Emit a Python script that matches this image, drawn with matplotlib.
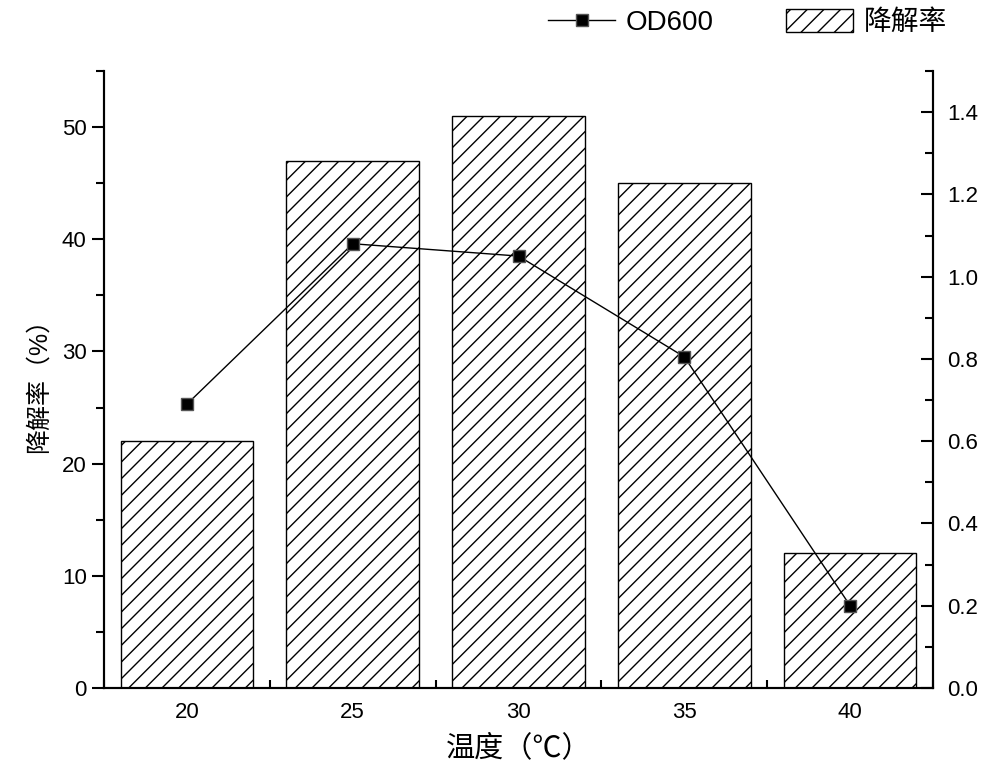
import matplotlib
matplotlib.use('Agg')

import numpy as np
import matplotlib.pyplot as plt
from matplotlib.ticker import MultipleLocator, FormatStrFormatter

plt.rcParams['font.family'] = ['Liberation Sans', 'Noto Sans CJK SC', 'DejaVu Sans']
plt.rcParams['hatch.linewidth'] = 1.0

# data
temperature = [20, 25, 30, 35, 40]
degradation = [22, 47, 51, 45, 12]
od600 = [0.69, 1.08, 1.05, 0.805, 0.20]

fig = plt.figure(figsize=(9.84, 7.8), dpi=100)
ax = fig.add_axes([0.1057, 0.118, 0.8425, 0.791])

bars = ax.bar(temperature, degradation, 4.0, color='white', edgecolor='black',
              hatch='//', linewidth=1.0, zorder=2)

ax.set_xlim(17.5, 42.5)
ax.set_ylim(0, 55)
ax.set_xticks(temperature)
ax.xaxis.set_minor_locator(MultipleLocator(2.5))
ax.yaxis.set_major_locator(MultipleLocator(10))
ax.yaxis.set_minor_locator(MultipleLocator(5))
ax.tick_params(axis='x', which='both', direction='in', width=1.5, labelsize=16, pad=10)
ax.tick_params(axis='x', which='major', length=9)
ax.tick_params(axis='x', which='minor', length=6)
ax.tick_params(axis='y', which='both', direction='out', width=1.5, labelsize=16)
ax.tick_params(axis='y', which='major', length=9)
ax.tick_params(axis='y', which='minor', length=6)
for s in ax.spines.values():
    s.set_linewidth(1.5)
ax.spines['top'].set_visible(False)

ax.set_xlabel('温度（℃）', fontsize=21, labelpad=8)
ax.set_ylabel('降解率（%）', fontsize=18, labelpad=8)

ax2 = ax.twinx()
line, = ax2.plot(temperature, od600, color='black', linewidth=1.0, marker='s',
                 markersize=9, markerfacecolor='black', markeredgecolor='#555555')
ax2.set_ylim(0, 1.5)
ax2.yaxis.set_major_locator(MultipleLocator(0.2))
ax2.yaxis.set_minor_locator(MultipleLocator(0.1))
ax2.yaxis.set_major_formatter(FormatStrFormatter('%.1f'))
ax2.tick_params(axis='y', which='both', direction='in', width=1.5, labelsize=16, pad=10)
ax2.tick_params(axis='y', which='major', length=9)
ax2.tick_params(axis='y', which='minor', length=6)
for s in ax2.spines.values():
    s.set_linewidth(1.5)
ax2.spines['top'].set_visible(False)

fig.legend((line, bars[0]), ('OD600', '降解率'), loc='center', bbox_to_anchor=(0.76, 0.971),
           ncol=2, frameon=False, fontsize=20, handlelength=2.4, handleheight=0.9,
           columnspacing=2.6, handletextpad=0.4)

plt.savefig('out.png', dpi=100)
